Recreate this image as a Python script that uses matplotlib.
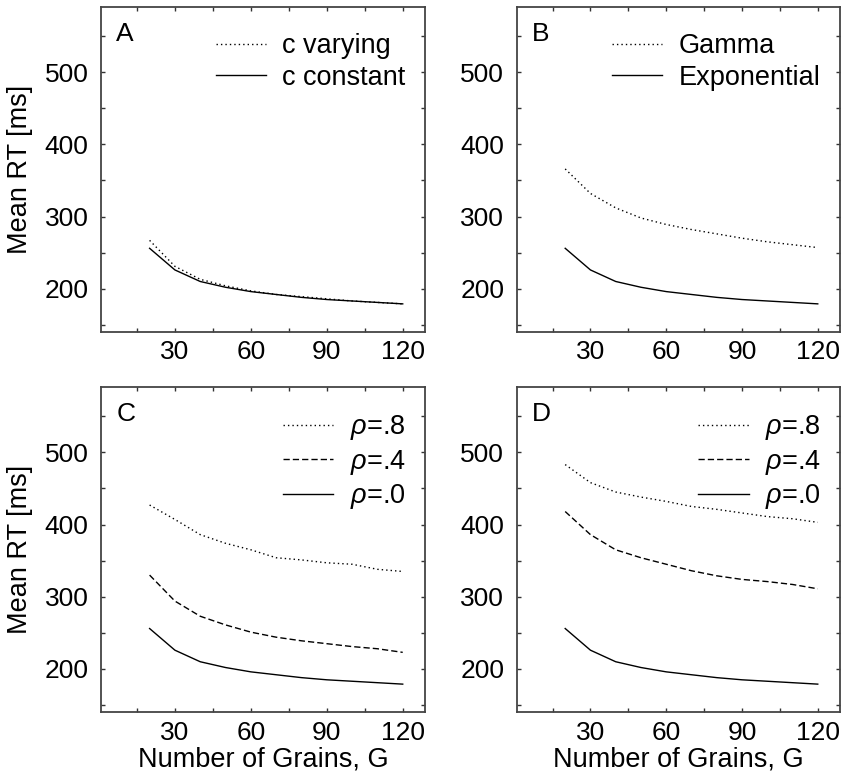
import matplotlib
matplotlib.use("Agg")
import matplotlib.pyplot as plt

plt.rcParams['font.family'] = ['Liberation Sans', 'DejaVu Sans']
plt.rcParams['mathtext.fontset'] = 'custom'
plt.rcParams['mathtext.it'] = 'Liberation Sans:italic'
plt.rcParams['mathtext.rm'] = 'Liberation Sans'

# ---- data ----
grains = [20, 30, 40, 50, 60, 70, 80, 90, 100, 110, 120]
rt_exponential = [256, 226, 210, 202, 196, 192, 188, 185, 183, 181, 179]
rt_c_varying = [267, 231, 213, 204, 197, 192, 189, 186, 183, 181, 179]
rt_gamma = [366, 332, 312, 298, 289, 282, 276, 270, 265, 261, 257]
rt_C_rho8 = [427, 407, 386, 374, 365, 354, 351, 347, 345, 338, 335]
rt_C_rho4 = [330, 294, 273, 261, 251, 244, 239, 235, 231, 228, 223]
rt_D_rho8 = [483, 458, 445, 438, 432, 425, 421, 416, 411, 408, 403]
rt_D_rho4 = [418, 386, 365, 354, 345, 336, 329, 324, 321, 317, 311]

panel_letters = ['A', 'B', 'C', 'D']
x_ticks = [15, 30, 45, 60, 75, 90, 105, 120]
x_ticklabels = ['', '30', '', '60', '', '90', '', '120']
y_ticks = [150, 200, 250, 300, 350, 400, 450, 500, 550]
y_ticklabels = ['', '200', '', '300', '', '400', '', '500', '']

DOT = (0, (1.0, 2.2))
DASH = (0, (4.5, 2.2))

W, H = 843, 782
fig = plt.figure(figsize=(W / 100, H / 100), dpi=100)

def rect(l, r, t, b):
    return [l / W, 1 - b / H, (r - l) / W, (b - t) / H]

axes = [
    fig.add_axes(rect(101, 425, 7.3, 332)),
    fig.add_axes(rect(516.7, 840, 7.3, 332)),
    fig.add_axes(rect(101, 425, 387.3, 712.3)),
    fig.add_axes(rect(516.7, 840, 387.3, 712.3)),
]

panels = [
    [(rt_c_varying, DOT, 'c varying'), (rt_exponential, '-', 'c constant')],
    [(rt_gamma, DOT, 'Gamma'), (rt_exponential, '-', 'Exponential')],
    [(rt_C_rho8, DOT, r'$\rho$=.8'), (rt_C_rho4, DASH, r'$\rho$=.4'), (rt_exponential, '-', r'$\rho$=.0')],
    [(rt_D_rho8, DOT, r'$\rho$=.8'), (rt_D_rho4, DASH, r'$\rho$=.4'), (rt_exponential, '-', r'$\rho$=.0')],
]

for i, (ax, series) in enumerate(zip(axes, panels)):
    for vals, ls, lab in series:
        ax.plot(grains, vals, color='black', linestyle=ls, linewidth=1.0, label=lab)
    ax.set_xlim(0.8, 128.8)
    ax.set_ylim(140, 590)
    ax.set_xticks(x_ticks)
    ax.set_xticklabels(x_ticklabels)
    ax.set_yticks(y_ticks)
    ax.set_yticklabels(y_ticklabels)
    ax.tick_params(direction='in', length=3, width=1, color='#333333',
                   top=True, right=True, labelsize=19)
    ax.tick_params(axis='y', pad=9)
    ax.tick_params(axis='x', pad=6)
    for sp in ax.spines.values():
        sp.set_color('#444444')
        sp.set_linewidth(1.3)
    ax.text(0.047, 0.955, panel_letters[i], transform=ax.transAxes,
            fontsize=19, va='top', ha='left')
    leg = ax.legend(loc='upper right', bbox_to_anchor=(0.94, 0.92),
                    frameon=False, fontsize=19.5, handlelength=1.85,
                    handletextpad=0.6, labelspacing=0.2, borderpad=0,
                    borderaxespad=0)
    if i % 2 == 0:
        ax.set_ylabel('Mean RT [ms]', fontsize=19.5, labelpad=8)
    if i >= 2:
        ax.set_xlabel('Number of Grains, G', fontsize=19.5, labelpad=1)

fig.savefig('out.png', dpi=100)
